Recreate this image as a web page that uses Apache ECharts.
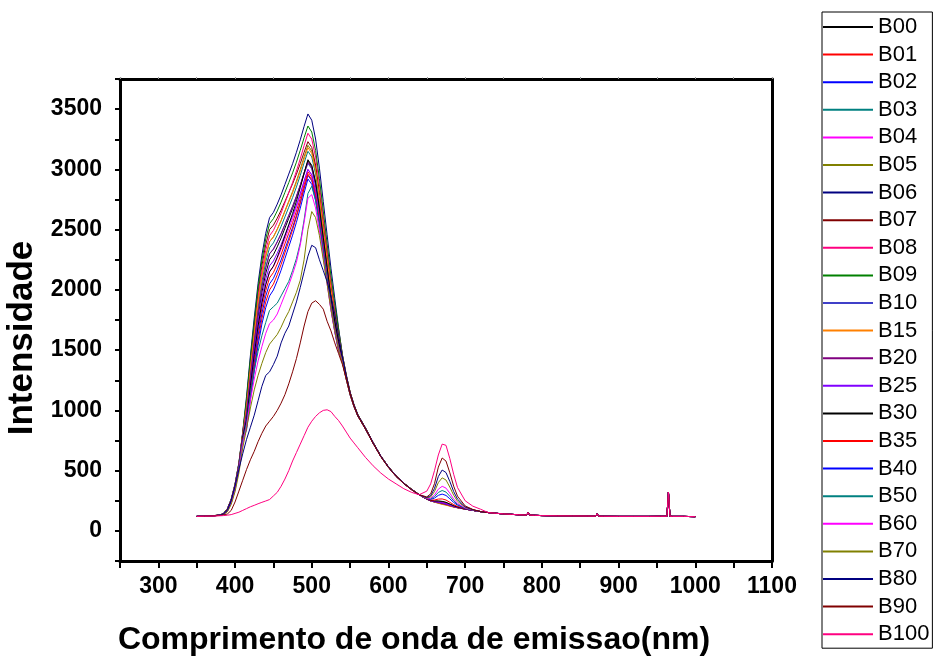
<!DOCTYPE html>
<html>
<head>
<meta charset="utf-8">
<script src="https://cdn.jsdelivr.net/npm/echarts@6/dist/echarts.min.js"></script>
<style>
html,body{margin:0;padding:0;background:#fff;}
#chart{width:934px;height:659px;}
</style>
</head>
<body>
<div id="chart"></div>
<script>
// Wavelengths (nm) for the per-series values
const W = [350,360,370,380,385,390,395,400,405,410,415,420,425,430,435,440,445,450,455,460,465,470,475,480,485,490,495,500,505,510,515,520,525,530,535,540,545,550,555,560,570,580,590,600,610,620,630,640,650,655,660,665,670,675,680,685,690,700,710,720];
// Shared tail (all spectra overlap here)
const tailW = [730,740,750,760,770,780,782,784,790,800,820,840,860,870,872,874,880,900,920,940,955,963,965,967,970,985,1000];
const tailV = [152,146,141,137,134,131,152,131,129,127,125,124,123,122,142,122,121,120,120,120,121,121,321,121,120,120,118];

const seriesNames = ["B00","B01","B02","B03","B04","B05","B06","B07","B08","B09","B10","B15","B20","B25","B30","B35","B40","B50","B60","B70","B80","B90","B100"];
const seriesColors = ["#000000","#FF0000","#0000FF","#008080","#FF00FF","#808000","#000080","#800000","#FF0080","#008000","#4040C8","#FF8000","#800080","#8000FF","#000000","#FF0000","#0000FF","#008080","#FF00FF","#808000","#000080","#800000","#FF0080"];

const b00 = [120,122,125,130,142,178,255,375,545,790,968,1260,1530,1778,1980,2138,2250,2291,2357,2430,2512,2594,2676,2767,2865,2972,3070,3024,2886,2671,2425,2180,1934,1735,1566,1430,1275,1140,1040,960,850,730,620,530,455,395,345,300,263,250,242,237,230,222,212,202,194,181,170,160];
const b01 = [120,123,125,131,140,172,245,360,525,765,903,1176,1428,1659,1848,1995,2100,2144,2214,2294,2382,2470,2558,2654,2760,2874,2980,2935,2801,2593,2354,2116,1877,1684,1520,1415,1265,1135,1035,955,846,728,618,528,453,393,343,299,263,251,244,241,235,227,215,204,195,181,170,160];
const b02 = [121,122,124,130,141,175,250,368,535,775,882,1148,1394,1620,1804,1948,2050,2095,2167,2248,2338,2428,2518,2617,2725,2842,2950,2906,2773,2567,2331,2095,1859,1667,1505,1410,1262,1132,1034,955,847,728,618,529,454,394,344,299,263,251,243,239,233,225,214,203,195,181,170,160];
const b03 = [120,122,125,131,143,180,258,380,550,800,1011,1316,1598,1857,2068,2233,2350,2390,2454,2526,2606,2686,2766,2854,2950,3054,3150,3103,2961,2741,2489,2237,1985,1780,1607,1440,1282,1145,1043,962,852,732,621,531,456,396,346,301,263,252,246,245,240,232,219,206,196,182,170,160];
const b04 = [120,122,124,130,141,176,252,370,540,782,925,1204,1462,1699,1892,2043,2150,2193,2261,2337,2422,2507,2592,2686,2788,2898,3000,2955,2820,2610,2370,2130,1890,1695,1530,1420,1270,1137,1037,958,849,729,619,529,454,394,344,300,263,251,245,242,237,229,217,205,196,182,170,160];
const b05 = [120,122,125,130,142,179,256,378,548,795,1032,1344,1632,1896,2112,2280,2400,2440,2504,2576,2656,2736,2816,2904,3000,3104,3200,3152,3008,2784,2528,2272,2016,1808,1632,1445,1285,1147,1045,963,853,732,621,531,456,396,346,301,263,252,247,247,243,235,221,208,197,182,171,160];
const b06 = [121,123,126,131,145,185,265,390,565,820,1118,1456,1768,2054,2288,2470,2600,2643,2712,2789,2875,2961,3047,3142,3245,3357,3460,3408,3252,3010,2733,2457,2180,1930,1680,1460,1295,1152,1048,966,855,734,622,532,457,397,347,302,263,250,240,233,225,218,208,200,193,181,170,160];
const b07 = [120,123,125,131,144,182,260,385,558,810,1075,1400,1700,1975,2200,2375,2500,2537,2595,2661,2734,2807,2880,2960,3048,3142,3230,3182,3036,2810,2552,2293,2035,1825,1640,1450,1288,1148,1046,964,853,733,621,531,456,396,346,301,263,250,241,234,227,219,210,200,193,181,170,160];
const b08 = [120,122,125,130,143,181,258,382,552,802,1054,1372,1666,1936,2156,2328,2450,2493,2561,2637,2722,2807,2892,2986,3088,3198,3300,3251,3102,2871,2607,2343,2079,1860,1660,1455,1290,1150,1046,964,854,733,622,531,456,396,346,301,263,251,244,241,235,227,215,204,195,181,170,160];
const b09 = [121,122,126,131,145,184,262,388,562,815,1097,1428,1734,2015,2244,2423,2550,2591,2655,2728,2809,2890,2971,3060,3158,3263,3360,3310,3158,2923,2654,2386,2117,1890,1670,1458,1292,1151,1047,965,854,733,622,532,457,397,347,302,262,249,239,231,223,216,207,199,192,181,170,160];
const b10 = [120,122,125,130,142,178,255,376,546,792,989,1288,1564,1817,2024,2185,2300,2338,2398,2465,2540,2615,2690,2773,2863,2960,3050,3004,2867,2654,2410,2166,1922,1723,1556,1428,1274,1140,1040,960,850,730,620,530,455,395,345,300,263,250,242,237,230,222,212,202,194,181,170,160];
const b15 = [120,122,125,131,143,180,257,380,550,800,1032,1344,1632,1896,2112,2280,2400,2439,2501,2572,2650,2728,2806,2891,2985,3086,3180,3132,2989,2767,2512,2258,2003,1797,1622,1440,1282,1145,1043,962,852,731,621,531,456,396,346,301,262,249,238,229,220,213,205,197,191,180,170,160];
const b20 = [120,122,125,130,142,178,254,375,545,790,989,1288,1564,1817,2024,2185,2300,2338,2399,2467,2543,2619,2695,2779,2870,2969,3060,3014,2876,2662,2417,2173,1928,1729,1561,1430,1275,1140,1040,960,850,730,620,530,455,395,345,300,263,250,241,234,227,219,210,200,193,181,170,160];
const b25 = [120,122,124,130,141,176,251,370,538,780,946,1232,1496,1738,1936,2090,2200,2240,2304,2376,2456,2536,2616,2704,2800,2904,3000,2955,2820,2610,2370,2130,1890,1695,1530,1420,1270,1137,1037,958,849,729,619,529,454,394,344,300,263,251,243,239,233,225,214,203,195,181,170,160];
const b30 = [120,122,125,130,141,175,250,368,535,778,925,1204,1462,1699,1892,2043,2150,2197,2271,2355,2448,2541,2634,2736,2848,2968,3080,3034,2895,2680,2433,2187,1940,1740,1571,1432,1276,1141,1041,961,851,731,620,530,455,395,345,300,264,253,248,248,245,237,223,209,198,182,171,160];
const b35 = [120,122,124,130,140,172,245,360,525,762,860,1120,1360,1580,1760,1900,2000,2048,2125,2211,2307,2403,2499,2605,2720,2845,2960,2916,2782,2575,2338,2102,1865,1672,1510,1412,1264,1134,1035,956,847,728,618,528,453,393,343,299,265,256,256,264,265,256,237,218,203,184,171,160];
const b40 = [120,122,124,130,140,170,240,355,515,750,839,1092,1326,1541,1716,1853,1950,1999,2076,2163,2260,2357,2454,2561,2678,2804,2920,2876,2745,2540,2307,2073,1840,1650,1490,1405,1260,1130,1033,955,846,727,618,528,453,393,343,299,267,262,272,295,305,294,266,236,213,186,172,160];
const b50 = [120,122,124,129,138,165,232,345,520,740,900,1130,1330,1490,1620,1730,1830,1860,1890,1950,2010,2070,2160,2260,2390,2580,2800,2860,2740,2540,2320,2090,1860,1670,1510,1400,1258,1130,1033,955,846,727,618,528,453,393,343,299,268,266,284,319,335,322,287,249,220,188,172,160];
const b60 = [120,122,124,129,137,162,228,338,505,720,870,1080,1260,1410,1530,1640,1720,1750,1800,1880,1960,2040,2130,2230,2370,2560,2760,2790,2680,2490,2270,2050,1830,1650,1500,1398,1256,1128,1032,954,845,726,617,527,452,392,342,299,270,271,298,346,370,355,313,265,229,191,173,160];
const b70 = [120,122,124,129,136,158,220,325,480,690,850,1020,1170,1290,1390,1480,1550,1590,1630,1690,1760,1820,1900,1980,2080,2250,2500,2650,2600,2450,2250,2050,1840,1660,1500,1395,1254,1127,1031,953,845,726,617,527,452,392,342,299,273,282,326,401,440,422,363,296,246,196,175,160];
const b80 = [120,122,125,130,140,170,250,370,510,640,760,860,960,1080,1200,1290,1320,1380,1450,1560,1640,1700,1800,1900,2020,2150,2280,2370,2350,2250,2160,2070,1950,1800,1620,1440,1280,1140,1040,958,848,728,618,528,453,393,343,299,277,292,352,451,505,484,410,326,263,200,176,160];
const b90 = [120,122,124,128,133,140,170,240,330,420,510,590,660,740,810,870,910,950,1000,1060,1130,1220,1320,1430,1560,1700,1820,1890,1910,1880,1840,1740,1660,1560,1470,1380,1260,1135,1035,955,845,725,615,525,450,392,342,300,282,307,392,529,605,579,482,371,288,207,178,160];
const b100 = [120,122,123,125,127,130,135,145,155,170,185,200,212,225,237,248,260,290,320,370,430,500,580,650,720,790,860,910,950,980,1000,1005,990,950,915,870,820,770,730,690,610,540,480,430,390,350,320,300,330,390,500,630,720,710,600,470,360,250,205,180];

const allValues = [b00,b01,b02,b03,b04,b05,b06,b07,b08,b09,b10,b15,b20,b25,b30,b35,b40,b50,b60,b70,b80,b90,b100];

// tick labels shown on the axes
const xTickLabels = [300,400,500,600,700,800,900,1000,1100];
const yTickLabels = [0,500,1000,1500,2000,2500,3000,3500];

function toPoints(vals){
  const pts = W.map((w,i)=>[w, vals[i]]);
  return pts.concat(tailW.map((w,i)=>[w, tailV[i]]));
}

const FONT = "'Liberation Sans', Arial, sans-serif";
const chart = echarts.init(document.getElementById('chart'), null, {renderer:'canvas'});

const series = seriesNames.map((n,i)=>({
  name: n,
  type: 'line',
  data: toPoints(allValues[i]),
  showSymbol: false,
  symbol: 'none',
  color: seriesColors[i],
  lineStyle: {width: 1, color: seriesColors[i]},
  emphasis: {disabled: true},
  animation: false,
  z: 2 + i
}));

chart.setOption({
  animation: false,
  backgroundColor: '#ffffff',
  grid: {left: 120, right: 162, top: 79, bottom: 98, containLabel: false, outerBoundsMode: 'none'},
  legend: {
    orient: 'vertical',
    left: 822, top: 12,
    padding: [4, 3, 3, 1],
    itemGap: 5.6,
    itemWidth: 50,
    itemHeight: 14,
    borderColor: '#000', borderWidth: 1,
    textStyle: {fontFamily: FONT, fontSize: 22, color: '#000', lineHeight: 22, padding: [0,0,0,0]},
    data: seriesNames,
    icon: 'path://M0,6 L50,6 L50,8 L0,8 Z',
    selectedMode: false
  },
  xAxis: [{
    type: 'value', min: 250, max: 1100, interval: 50,
    position: 'bottom',
    name: 'Comprimento de onda de emissao(nm)',
    nameLocation: 'middle', nameGap: 63,
    nameTextStyle: {fontFamily: FONT, fontSize: 32, fontWeight: 'bold', color: '#000', padding: [0, 64, 0, 0]},
    axisLine: {show: true, onZero: false, lineStyle: {color: '#000', width: 3}},
    axisTick: {show: true, length: 7, lineStyle: {color: '#000', width: 2}},
    axisLabel: {
      fontFamily: FONT, fontSize: 23, fontWeight: 'bold', color: '#000', margin: 14,
      formatter: v => xTickLabels.indexOf(v) >= 0 ? String(v) : ''
    },
    splitLine: {show: false}
  },{
    type: 'value', min: 250, max: 1100, interval: 50, position: 'top',
    axisLine: {show: true, onZero: false, lineStyle: {color: '#000', width: 3}},
    axisTick: {show: true, length: 2, lineStyle: {color: '#999', width: 1}},
    axisLabel: {show: false}, splitLine: {show: false}
  }],
  yAxis: [{
    type: 'value', min: -250, max: 3750, interval: 250,
    position: 'left',
    name: 'Intensidade',
    nameLocation: 'middle', nameGap: 80,
    nameRotate: 90,
    nameTextStyle: {fontFamily: FONT, fontSize: 35, fontWeight: 'bold', color: '#000', padding: [0, 36, 0, 0]},
    axisLine: {show: true, onZero: false, lineStyle: {color: '#000', width: 3}},
    axisTick: {show: true, length: 5, lineStyle: {color: '#000', width: 2}},
    axisLabel: {
      fontFamily: FONT, fontSize: 23, fontWeight: 'bold', color: '#000', margin: 18,
      formatter: v => yTickLabels.indexOf(v) >= 0 ? String(v) : ''
    },
    splitLine: {show: false}
  },{
    type: 'value', min: -250, max: 3750, interval: 250, position: 'right',
    axisLine: {show: true, onZero: false, lineStyle: {color: '#000', width: 3}},
    axisTick: {show: false}, axisLabel: {show: false}, splitLine: {show: false}
  }],
  series: series
});
</script>
</body>
</html>
